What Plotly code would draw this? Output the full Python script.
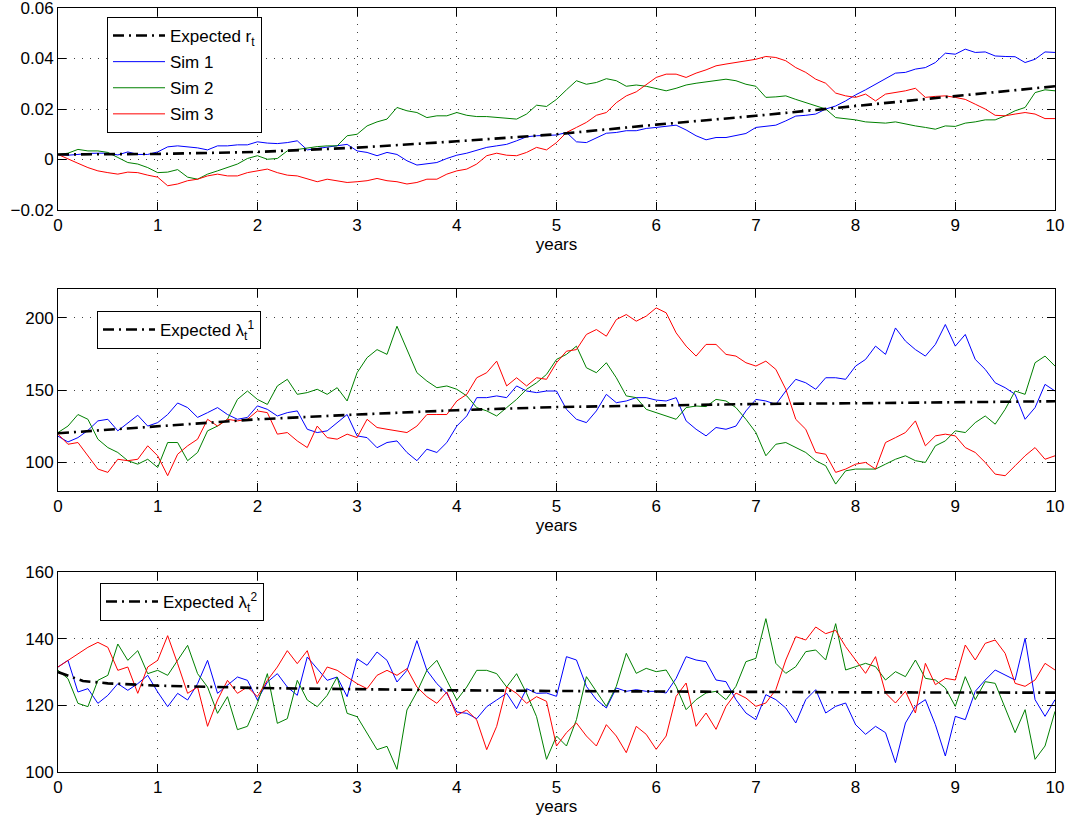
import numpy as np
import plotly.graph_objects as go

# ---------------- data ----------------
years = np.round(np.arange(0, 101) / 10.0, 1)

exp_r_years = [0, 1, 2, 3, 4, 5, 6, 7, 8, 9, 10]
exp_r = [0.002, 0.0022, 0.003, 0.0047, 0.0072, 0.0100, 0.0138, 0.0173, 0.0212, 0.0252, 0.029]

r_sim1 = [0.002, 0.0017, 0.002, 0.0024, 0.0025, 0.0025, 0.0018, 0.003, 0.002, 0.002,
          0.003, 0.005, 0.0054, 0.005, 0.0046, 0.0038, 0.0054, 0.0054, 0.0058, 0.0058,
          0.007, 0.0065, 0.0063, 0.0067, 0.0074, 0.0038, 0.0044, 0.005, 0.0054, 0.006,
          0.0034, 0.0028, 0.0015, 0.0028, 0.002, -0.0005, -0.0022, -0.0016, -0.0012, 0.0004,
          0.0017, 0.0025, 0.0038, 0.0048, 0.0054, 0.006, 0.0074, 0.009, 0.0094, 0.0094,
          0.0097, 0.0107, 0.007, 0.0067, 0.0087, 0.0104, 0.0107, 0.0114, 0.0114, 0.0123,
          0.0127, 0.013, 0.0136, 0.0117, 0.0094, 0.0078, 0.0087, 0.0087, 0.0094, 0.0103,
          0.0127, 0.0131, 0.0136, 0.0153, 0.0172, 0.0175, 0.018, 0.02, 0.0212, 0.0232,
          0.0256, 0.0276, 0.0298, 0.0318, 0.0342, 0.0345, 0.0358, 0.0364, 0.0384, 0.0421,
          0.0417, 0.0437, 0.0424, 0.0426, 0.041, 0.0408, 0.0407, 0.0384, 0.0397, 0.0426, 0.0424]

r_sim2 = [0.002, 0.0025, 0.004, 0.0034, 0.0034, 0.0028, 0.0008, -0.0012, -0.0018, -0.0032,
          -0.0052, -0.005, -0.004, -0.007, -0.0078, -0.0058, -0.0045, -0.0032, -0.0018, 0.0004,
          0.0015, 0.0001, 0.0004, 0.0034, 0.004, 0.0045, 0.0051, 0.0054, 0.0054, 0.0094,
          0.01, 0.0133, 0.0149, 0.016, 0.0206, 0.0193, 0.0186, 0.0166, 0.0173, 0.0173,
          0.0186, 0.0175, 0.017, 0.017, 0.0166, 0.0162, 0.016, 0.018, 0.0215, 0.021,
          0.0238, 0.0276, 0.0312, 0.0298, 0.0305, 0.032, 0.0312, 0.029, 0.0295, 0.029,
          0.0282, 0.0272, 0.0282, 0.0295, 0.0302, 0.0308, 0.0312, 0.0318, 0.0312, 0.0298,
          0.029, 0.0246, 0.0248, 0.0252, 0.0238, 0.0225, 0.021, 0.02, 0.0166, 0.0162,
          0.0157, 0.0149, 0.0147, 0.0144, 0.0149, 0.014, 0.0133, 0.0127, 0.012, 0.0133,
          0.0131, 0.0144, 0.0149, 0.0157, 0.0157, 0.0173, 0.0193, 0.0206, 0.0265, 0.0276, 0.0272]

r_sim3 = [0.002, 0.0004, -0.0015, -0.0032, -0.0045, -0.0052, -0.0058, -0.005, -0.0052, -0.0062,
          -0.007, -0.0104, -0.0097, -0.0084, -0.0078, -0.0065, -0.0058, -0.0065, -0.0065, -0.0052,
          -0.0045, -0.0038, -0.0052, -0.0062, -0.0065, -0.0075, -0.0088, -0.0078, -0.0084, -0.0091,
          -0.0088, -0.0084, -0.0075, -0.0084, -0.0088, -0.0097, -0.0091, -0.0078, -0.0078, -0.0058,
          -0.0045, -0.0038, -0.0018, 0.0015, 0.0025, 0.0017, 0.0015, 0.0028, 0.0048, 0.0038,
          0.0067, 0.0107, 0.0127, 0.0147, 0.0175, 0.0186, 0.0225, 0.0252, 0.0268, 0.0295,
          0.0325, 0.0338, 0.0338, 0.0325, 0.0342, 0.0355, 0.0371, 0.0378, 0.0384, 0.0391,
          0.0397, 0.0408, 0.0404, 0.0391, 0.0364, 0.0345, 0.0318, 0.0302, 0.0263, 0.0252,
          0.0246, 0.0259, 0.0232, 0.0259, 0.0265, 0.0272, 0.0282, 0.0246, 0.025, 0.0252,
          0.0246, 0.0238, 0.0219, 0.02, 0.0175, 0.0173, 0.018, 0.0186, 0.018, 0.0162, 0.0162]

exp_l1_years = [0, 1, 2, 3, 4, 5, 6, 7, 8, 9, 10]
exp_l1 = [120, 125, 129.7, 133, 136, 138.2, 139.4, 140.3, 140.8, 141.5, 142.2]

l1_sim1 = [118, 114, 117, 122, 128.6, 129.7, 121.7, 127.4, 132.5, 125,
           127.4, 133, 141, 137.8, 131, 134.3, 137.8, 133, 129.7, 131,
           139, 136.6, 132, 134.3, 135.5, 122.8, 120.5, 121.7, 127.4, 133,
           118.2, 117, 110, 113.6, 114.7, 106.7, 101, 109, 106.7, 113.6,
           125, 132, 144.7, 144.7, 145.9, 144.7, 152.8, 149.3, 148.2, 149.3,
           149.3, 136.6, 129.7, 127.4, 135.5, 147, 141.2, 142.4, 144.7, 144.7,
           143, 142.4, 144.7, 128.6, 122.8, 118.2, 124, 122.8, 125, 135.5,
           143.5, 142.4, 140, 149.3, 157.4, 155, 150.5, 158.5, 158.5, 157.4,
           166.6, 171.2, 180.4, 174.7, 193, 183.9, 178, 173.5, 181.6, 195.4,
           180.4, 188.5, 171.2, 164.3, 155, 151.6, 147, 129.7, 137.8, 153.9, 149.3]

l1_sim2 = [120.5, 125, 133, 129.7, 115.9, 110.1, 106.7, 101, 98.6, 102,
           96.3, 113.6, 113.6, 101, 106.7, 121.7, 125, 129.7, 143.5, 149.3,
           143.5, 140, 152.8, 157.4, 147, 148.2, 150.5, 147, 151.6, 142.4,
           162, 172.4, 178, 174.7, 194.2, 178, 162, 156.2, 151.6, 152.8,
           150.5, 145.9, 137.8, 135.5, 132, 137.8, 143.5, 150.5, 155, 160.8,
           171.2, 174.7, 180.4, 165.4, 162, 168.9, 158.5, 145.9, 144.7, 136.6,
           134.3, 132, 129.7, 137.8, 138.9, 138.5, 143.5, 142.4, 137.8, 129.7,
           120.5, 104.4, 112.4, 113.6, 110.1, 106.7, 101, 97.5, 84.8, 94,
           95.2, 95.2, 95.2, 98.6, 102, 104.4, 101, 99.8, 111.3, 114.7,
           121.7, 120.5, 127.4, 132, 126.3, 136.6, 149.3, 147, 168.9, 173.5, 166.6]

l1_sim3 = [119.4, 112.4, 113.6, 104.4, 95.2, 92.9, 102, 101, 102, 111.3,
           104.4, 90.6, 105.5, 111.3, 115.9, 129.7, 125, 129.7, 128.6, 129.7,
           135.5, 134.3, 119.4, 120.5, 114.7, 110.1, 125, 117, 115.9, 119.4,
           117, 129.7, 124, 122.8, 121.7, 120.5, 125, 133, 133, 133,
           142.4, 147, 158.5, 162, 170, 152.8, 158.5, 152.8, 158.5, 157.4,
           168.9, 176.9, 178, 188.5, 191.9, 187.3, 198.8, 202.3, 197.7, 201.2,
           206.9, 203.5, 189.6, 180.4, 173.5, 181.6, 181.6, 174.7, 173.5, 168.9,
           166.6, 170, 164.3, 150.5, 129.7, 122.8, 106.7, 105.5, 92.9, 95.2,
           98.6, 99.8, 95.2, 113.6, 117, 120.5, 128.6, 111.3, 118.2, 119.4,
           118.2, 110.1, 106.7, 99.8, 91.7, 90.6, 97.5, 104.4, 110.1, 102, 104.4]

exp_l2_years = [0, 0.1, 0.25, 0.5, 1, 2, 3, 4, 5, 6, 7, 8, 9, 10]
exp_l2 = [130, 129, 127.3, 126.6, 125.9, 125.2, 124.8, 124.5, 124.3, 124.1, 124.0, 123.9, 123.85, 123.8]

l2_sim1 = [131.5, 133.5, 124, 125, 120.6, 123, 126.5, 124.5, 126.5, 129,
           124, 119.6, 123.6, 121.6, 126.5, 133.5, 123.6, 126, 128.5, 127.5,
           121.6, 127, 129.5, 125.5, 123, 134.5, 131, 127.5, 128.5, 122.6,
           134, 132, 136, 133.5, 127, 130.5, 139.4, 130.5, 126.5, 123.6,
           118, 117.6, 116, 119.6, 121.6, 123.6, 119, 125, 123.6, 123.7,
           122.7, 134.6, 133.6, 125.7, 121.7, 119.2, 125.2, 124.2, 124.7, 124.2,
           124.2, 123.7, 128.1, 134.6, 133.6, 133.1, 127.6, 127.1, 121.7, 117.7,
           115.7, 123.2, 121.7, 119.2, 114.7, 121.7, 124.7, 117.7, 119.7, 120.7,
           114.2, 111.3, 113.7, 111.8, 102.8, 114.7, 119.7, 121.7, 114.2, 104.8,
           116.7, 115.7, 124.2, 127.6, 130.6, 129.1, 127.6, 140.1, 121.7, 116.7, 121.7]

l2_sim2 = [130.5, 128, 120.6, 119.6, 127.5, 129, 138.4, 133.5, 136.4, 129.5,
           130.5, 129, 133.5, 138, 129.5, 125.5, 117.6, 122.6, 112.7, 113.7,
           120.6, 129.5, 114.6, 116, 127.5, 121.6, 119.6, 123, 128.5, 117.6,
           116.6, 111.7, 106.7, 107.7, 100.8, 118.6, 124, 130.5, 133.5, 127.5,
           121.6, 125.5, 130.5, 130.5, 129.5, 125.5, 129.5, 123.6, 116.6, 103.8,
           110.8, 107.8, 115.7, 128.6, 124.2, 119.7, 125.7, 135.6, 129.6, 131.1,
           130.1, 130.6, 125.7, 118.7, 121.7, 123.7, 124.2, 121.7, 125.7, 133.1,
           134.1, 146, 132.6, 129.6, 131.6, 136.1, 136.6, 133.6, 144.5, 130.6,
           131.6, 132.6, 131.6, 127.6, 130.1, 128.6, 133.6, 128.1, 127.6, 125.2,
           119.7, 128.6, 121.7, 127.1, 126.6, 119.2, 111.8, 118.7, 103.8, 107.8, 118.2]

l2_sim3 = [131.5, 133.5, 135.5, 137.4, 138.9, 137.4, 130.5, 131.5, 123.6, 131.5,
           133.5, 140.9, 132.5, 123.6, 125.5, 113.7, 121.6, 127.5, 123.6, 125.5,
           122.6, 127.5, 131.5, 136.4, 132.5, 136.4, 126.5, 131.5, 130.5, 128.5,
           126.5, 125, 129, 130.5, 129, 131, 125.5, 122.6, 120.6, 124,
           117, 118.6, 115.6, 106.7, 113.7, 125.5, 123.6, 120.6, 122.6, 121.2,
           107.8, 111.8, 114.7, 110.8, 107.8, 114.2, 110.8, 105.8, 113.7, 111.3,
           106.8, 110.8, 122.7, 126.7, 113.7, 117.7, 112.8, 119.7, 123.7, 122.2,
           119.7, 120.7, 124.7, 133.6, 140.6, 139.6, 143.5, 141.5, 142.5, 137.6,
           133.6, 129.6, 134.6, 123.7, 120.7, 124.2, 117.7, 132.6, 126.2, 128.1,
           127.6, 138.1, 133.6, 138.6, 139.6, 135.6, 126.6, 125.7, 127.6, 132.6, 130.6]

sim_names = ["Sim 1", "Sim 2", "Sim 3"]
sim_colors = ["rgb(0,0,255)", "rgb(0,128,0)", "rgb(255,0,0)"]

# ---------------- figure ----------------
W, H = 1071, 821
FONT = "Liberation Sans, Arial, Helvetica, sans-serif"
dash_style = "11px,5px,2px,5px"

fig = go.Figure()

panels = [
    (exp_r_years, exp_r, "Expected r<sub>t</sub>", [r_sim1, r_sim2, r_sim3], "x", "y", "legend"),
    (exp_l1_years, exp_l1, "Expected λ<sub>t</sub><sup>1</sup>", [l1_sim1, l1_sim2, l1_sim3], "x2", "y2", "legend2"),
    (exp_l2_years, exp_l2, "Expected λ<sub>t</sub><sup>2</sup>", [l2_sim1, l2_sim2, l2_sim3], "x3", "y3", "legend3"),
]

for i, (ex, ey, ename, sims, xa, ya, lg) in enumerate(panels):
    for j, s in enumerate(sims):
        fig.add_trace(go.Scatter(
            x=years, y=s, mode="lines", name=sim_names[j],
            line=dict(color=sim_colors[j], width=1),
            xaxis=xa, yaxis=ya, legend=lg, showlegend=(i == 0),
            legendrank=10 + j, legendgroup="p%d_s%d" % (i, j),
        ))
    fig.add_trace(go.Scatter(
        x=ex, y=ey, mode="lines", name=ename,
        line=dict(color="black", width=2.6, dash=dash_style),
        xaxis=xa, yaxis=ya, legend=lg, showlegend=True, legendrank=1,
        legendgroup="p%d_e" % i,
    ))

def px_y(p):
    return 1 - p / H

x_dom = [58 / W, 1055 / W]
y_doms = [[px_y(210), px_y(8)], [px_y(491), px_y(289)], [px_y(772), px_y(572)]]
y_ranges = [[-0.02, 0.06], [80, 220], [100, 160]]
y_ticks = [[-0.02, 0, 0.02, 0.04, 0.06], [100, 150, 200], [100, 120, 140, 160]]
y_ticktext = [["\u22120.02", "0", "0.02", "0.04", "0.06"], ["100", "150", "200"], ["100", "120", "140", "160"]]

TICK_SIZE = 17
axis_common = dict(
    automargin=False, ticklabeloverflow="allow",
    showline=True, linecolor="black", linewidth=1, mirror="ticks",
    ticks="inside", ticklen=8, tickcolor="black", tickwidth=1,
    showgrid=True, gridcolor="rgba(0,0,0,0.75)", gridwidth=1, griddash="1px,7px",
    zeroline=False, tickfont=dict(family=FONT, size=TICK_SIZE, color="black"),
)

layout = dict(
    width=W, height=H, autosize=False,
    margin=dict(l=0, r=0, t=0, b=0, pad=0),
    paper_bgcolor="white", plot_bgcolor="white",
    font=dict(family=FONT, size=TICK_SIZE, color="black"),
)

for k in range(3):
    sx = "" if k == 0 else str(k + 1)
    layout["xaxis" + sx] = dict(
        axis_common, domain=x_dom, range=[0, 10], tickvals=list(range(11)),
        anchor="y" + sx,
        title=dict(text="years", font=dict(family=FONT, size=TICK_SIZE, color="black"), standoff=0),
    )
    layout["yaxis" + sx] = dict(
        axis_common, domain=y_doms[k], range=y_ranges[k],
        tickvals=y_ticks[k], ticktext=y_ticktext[k], anchor="x" + sx,
    )

legend_common = dict(
    xanchor="left", yanchor="top", bgcolor="white",
    bordercolor="black", borderwidth=1,
    font=dict(family=FONT, size=17, color="black"),
    itemwidth=52, traceorder="grouped", tracegroupgap=1,
)
layout["legend"] = dict(legend_common, x=107 / W, y=px_y(17))
layout["legend2"] = dict(legend_common, x=97 / W, y=px_y(311))
layout["legend3"] = dict(legend_common, x=100 / W, y=px_y(583))

fig.update_layout(**layout)
fig.write_html(
    "out.html",
    config={"displayModeBar": False},
    post_script="document.body.style.margin='0px';document.body.style.overflow='hidden';",
)
